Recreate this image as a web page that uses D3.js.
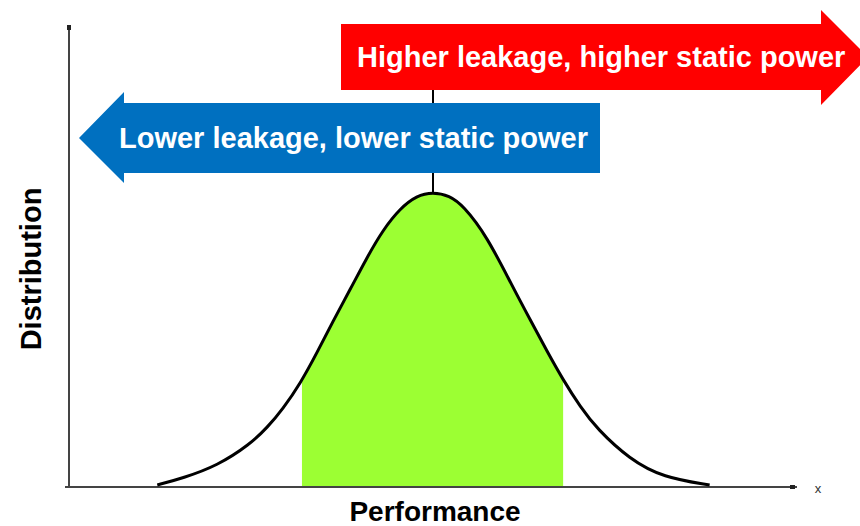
<!DOCTYPE html>
<html>
<head>
<meta charset="utf-8">
<script src="https://cdn.jsdelivr.net/npm/d3@7"></script>
<style>
  body { margin: 0; background: #fff; }
  svg { display: block; }
  text { font-family: "Liberation Sans", Arial, sans-serif; }
</style>
</head>
<body>
<script>
// performance (in sigma-ish units) and relative distribution
var perf = [-3.03, -2.75, -2.37, -2.01, -1.82, -1.65, -1.46, -1.27, -1.10, -0.91, -0.73, -0.55, -0.36, -0.18, 0,
            0.18, 0.33, 0.59, 0.88, 1.07, 1.25, 1.43, 1.62, 1.80, 2.16, 2.53, 3.04];
var dist = [0.007, 0.030, 0.072, 0.145, 0.202, 0.265, 0.350, 0.458, 0.562, 0.670, 0.776, 0.872, 0.945, 0.988, 1.0,
            0.988, 0.955, 0.852, 0.676, 0.566, 0.462, 0.363, 0.271, 0.198, 0.094, 0.032, 0.007];
// shaded band (green) and the mean marker
var band = [-1.44, 1.43];
var meanX = 0;
var labels = ["Higher leakage, higher static power", "Lower leakage, lower static power"];
var xTitle = "Performance";
var yTitle = "Distribution";

var data = perf.map(function(p, i) { return {x: p, y: dist[i]}; });

function draw_chart() {
  var W = 860, H = 526;
  var svg = d3.select("body").append("svg")
    .attr("width", W)
    .attr("height", H);

  var xScale = d3.scaleLinear().domain([-4, 4]).range([69, 797]);
  var yScale = d3.scaleLinear().domain([0, 1.56]).range([487, 27]);

  // shaded band under the curve
  svg.append("clipPath").attr("id", "band")
    .append("rect")
    .attr("x", xScale(band[0]))
    .attr("y", 0)
    .attr("width", xScale(band[1]) - xScale(band[0]))
    .attr("height", H);

  var area = d3.area()
    .x(function(d) { return xScale(d.x); })
    .y0(yScale(0))
    .y1(function(d) { return yScale(d.y); })
    .curve(d3.curveBasis);

  svg.append("path")
    .datum(data)
    .attr("clip-path", "url(#band)")
    .attr("d", area)
    .attr("fill", "#9cff33");

  // axes
  svg.append("line")
    .attr("x1", xScale(-4)).attr("x2", xScale(-4))
    .attr("y1", yScale(1.56)).attr("y2", yScale(0) + 1)
    .attr("stroke", "#444").attr("stroke-width", 2);
  svg.append("line")
    .attr("x1", xScale(-4) - 4).attr("x2", xScale(4))
    .attr("y1", yScale(0)).attr("y2", yScale(0))
    .attr("stroke", "#444").attr("stroke-width", 2);
  svg.append("rect")
    .attr("x", xScale(-4) - 2).attr("y", yScale(1.56) - 2)
    .attr("width", 4).attr("height", 5).attr("fill", "#222");
  svg.append("rect")
    .attr("x", xScale(4) - 7).attr("y", yScale(0) - 2)
    .attr("width", 5).attr("height", 4).attr("fill", "#222");
  svg.append("text")
    .attr("x", xScale(4) + 21).attr("y", yScale(0) + 6)
    .attr("text-anchor", "middle")
    .attr("font-size", 13)
    .attr("fill", "#333")
    .text("x");

  // mean marker
  svg.append("line")
    .attr("x1", xScale(meanX)).attr("x2", xScale(meanX))
    .attr("y1", 40).attr("y2", yScale(1.0))
    .attr("stroke", "#000").attr("stroke-width", 2);

  // distribution curve
  var line = d3.line()
    .x(function(d) { return xScale(d.x); })
    .y(function(d) { return yScale(d.y); })
    .curve(d3.curveBasis);

  svg.append("path")
    .datum(data)
    .attr("d", line)
    .attr("fill", "none")
    .attr("stroke", "#000")
    .attr("stroke-width", 3);

  // arrows
  var red = [[341, 24], [821, 24], [821, 10], [868, 57], [821, 105], [821, 90], [341, 90]];
  svg.append("polygon")
    .attr("points", red.join(" "))
    .attr("fill", "#ff0000");
  svg.append("text")
    .attr("x", 357).attr("y", 67)
    .attr("font-size", 29).attr("font-weight", "bold")
    .attr("fill", "#fff")
    .text(labels[0]);

  var blue = [[600, 103], [124, 103], [124, 92], [79, 138], [124, 183], [124, 173], [600, 173]];
  svg.append("polygon")
    .attr("points", blue.join(" "))
    .attr("fill", "#0070c0");
  svg.append("text")
    .attr("x", 119).attr("y", 148)
    .attr("font-size", 29).attr("font-weight", "bold")
    .attr("fill", "#fff")
    .text(labels[1]);

  // axis titles
  svg.append("text")
    .attr("x", 435).attr("y", 521)
    .attr("text-anchor", "middle")
    .attr("font-size", 28).attr("font-weight", "bold")
    .attr("fill", "#000")
    .text(xTitle);
  svg.append("text")
    .attr("transform", "translate(41,269) rotate(-90)")
    .attr("text-anchor", "middle")
    .attr("font-size", 29).attr("font-weight", "bold")
    .attr("fill", "#000")
    .text(yTitle);
}

draw_chart();
</script>
</body>
</html>
